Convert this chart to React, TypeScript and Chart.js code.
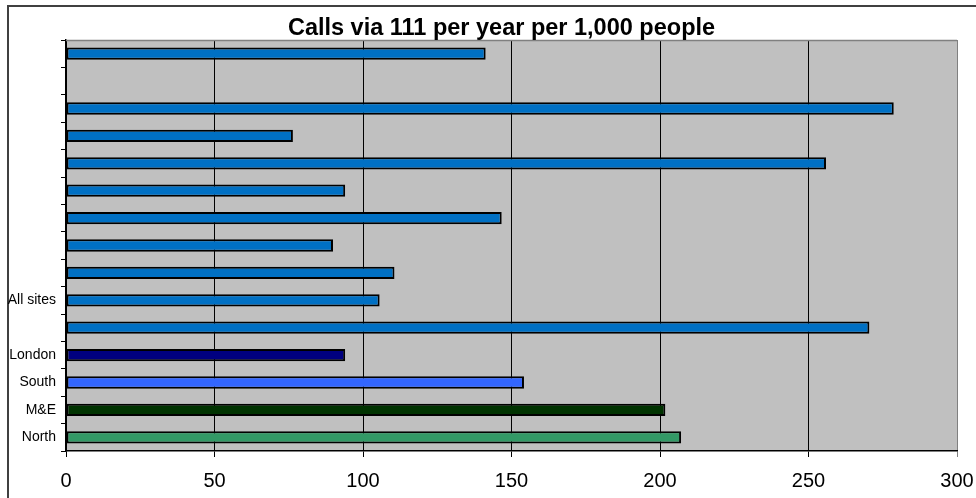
import { useEffect, useRef } from "react";
import { Chart, registerables } from "chart.js";

Chart.register(...registerables);

const categories = ["", "", "", "", "", "", "", "", "", "All sites", "", "London", "South", "M&E", "North"];
const callsPer1000: (number | null)[] = [141.3, null, 278.7, 76.4, 255.9, 94.0, 146.7, 89.9, 110.6, 105.6, 270.5, 94.0, 154.2, 201.8, 207.1];
const xMin = 0;
const xMax = 300;
const xStep = 50;
const titleText = "Calls via 111 per year per 1,000 people";

const BLUE = "#0070C4";
const barColors = [BLUE, BLUE, BLUE, BLUE, BLUE, BLUE, BLUE, BLUE, BLUE, BLUE, BLUE, "#000080", "#3366FF", "#003300", "#339966"];

const FONT = "'Liberation Sans', Arial, Helvetica, sans-serif";

const plotBg = {
  id: "plotBg",
  beforeDraw(chart: any) {
    const { ctx, chartArea } = chart;
    if (!chartArea) return;
    ctx.save();
    ctx.fillStyle = "#C0C0C0";
    ctx.fillRect(chartArea.left, chartArea.top, chartArea.right - chartArea.left, chartArea.bottom - chartArea.top);
    ctx.restore();
  },
  beforeDatasetsDraw(chart: any) {
    const { ctx, chartArea } = chart;
    ctx.save();
    ctx.strokeStyle = "#808080";
    ctx.lineWidth = 1.5;
    ctx.beginPath();
    ctx.moveTo(chartArea.left, Math.round(chartArea.top) + 0.5);
    ctx.lineTo(chartArea.right, Math.round(chartArea.top) + 0.5);
    ctx.stroke();
    ctx.restore();
  },
  afterDraw(chart: any) {
    const { ctx, chartArea } = chart;
    ctx.save();
    ctx.fillStyle = "#000000";
    ctx.font = `bold 23.5px ${FONT}`;
    ctx.textAlign = "center";
    ctx.textBaseline = "alphabetic";
    ctx.fillText(titleText, (chartArea.left + chartArea.right) / 2 - 10, chartArea.top - 5);
    ctx.restore();
  },
};

export default function App() {
  const ref = useRef<HTMLCanvasElement | null>(null);

  useEffect(() => {
    if (!ref.current) return;
    const chart = new Chart(ref.current, {
      type: "bar",
      data: {
        labels: categories,
        datasets: [
          {
            data: callsPer1000 as any,
            backgroundColor: barColors,
            borderColor: "#000000",
            borderWidth: 2,
            borderSkipped: false,
            categoryPercentage: 0.86,
            barPercentage: 0.52,
          },
        ],
      },
      options: {
        indexAxis: "y",
        animation: false,
        responsive: false,
        maintainAspectRatio: false,
        devicePixelRatio: 1,
        layout: { padding: { left: 0, right: 19, top: 40, bottom: 0 } },
        plugins: {
          legend: { display: false },
          tooltip: { enabled: false },
          title: { display: false },
        },
        scales: {
          x: {
            type: "linear",
            min: xMin,
            max: xMax,
            afterFit(scale: any) {
              scale.height = 47;
              scale.paddingRight = 0;
              scale.paddingLeft = 0;
            },
            ticks: {
              stepSize: xStep,
              color: "#000000",
              padding: 12,
              font: { family: FONT, size: 20 },
            },
            grid: {
              color: (c: any) => (c.tick && c.tick.value === xMax ? "#808080" : "#000000"),
              lineWidth: 1,
              tickLength: 6,
              drawTicks: true,
            },
            border: { color: "#000000", width: 1.5 },
          },
          y: {
            type: "category",
            afterFit(scale: any) {
              scale.width = 66;
            },
            ticks: {
              color: "#000000",
              padding: 5,
              autoSkip: false,
              font: { family: FONT, size: 14 },
            },
            grid: {
              offset: true,
              drawOnChartArea: false,
              drawTicks: true,
              tickLength: 5,
              color: "#000000",
            },
            border: { color: "#000000", width: 1.5 },
          },
        },
      },
      plugins: [plotBg],
    });
    return () => chart.destroy();
  }, []);

  return (
    <div style={{ position: "fixed", left: 0, top: 0, width: 976, height: 498, overflow: "hidden", background: "#ffffff" }}>
      <div
        style={{
          position: "absolute",
          left: 7,
          top: 5,
          width: 1100,
          height: 700,
          border: "2px solid #404040",
          boxSizing: "border-box",
        }}
      />
      <canvas ref={ref} width={976} height={498} style={{ position: "absolute", left: 0, top: 0, width: 976, height: 498 }} />
    </div>
  );
}
